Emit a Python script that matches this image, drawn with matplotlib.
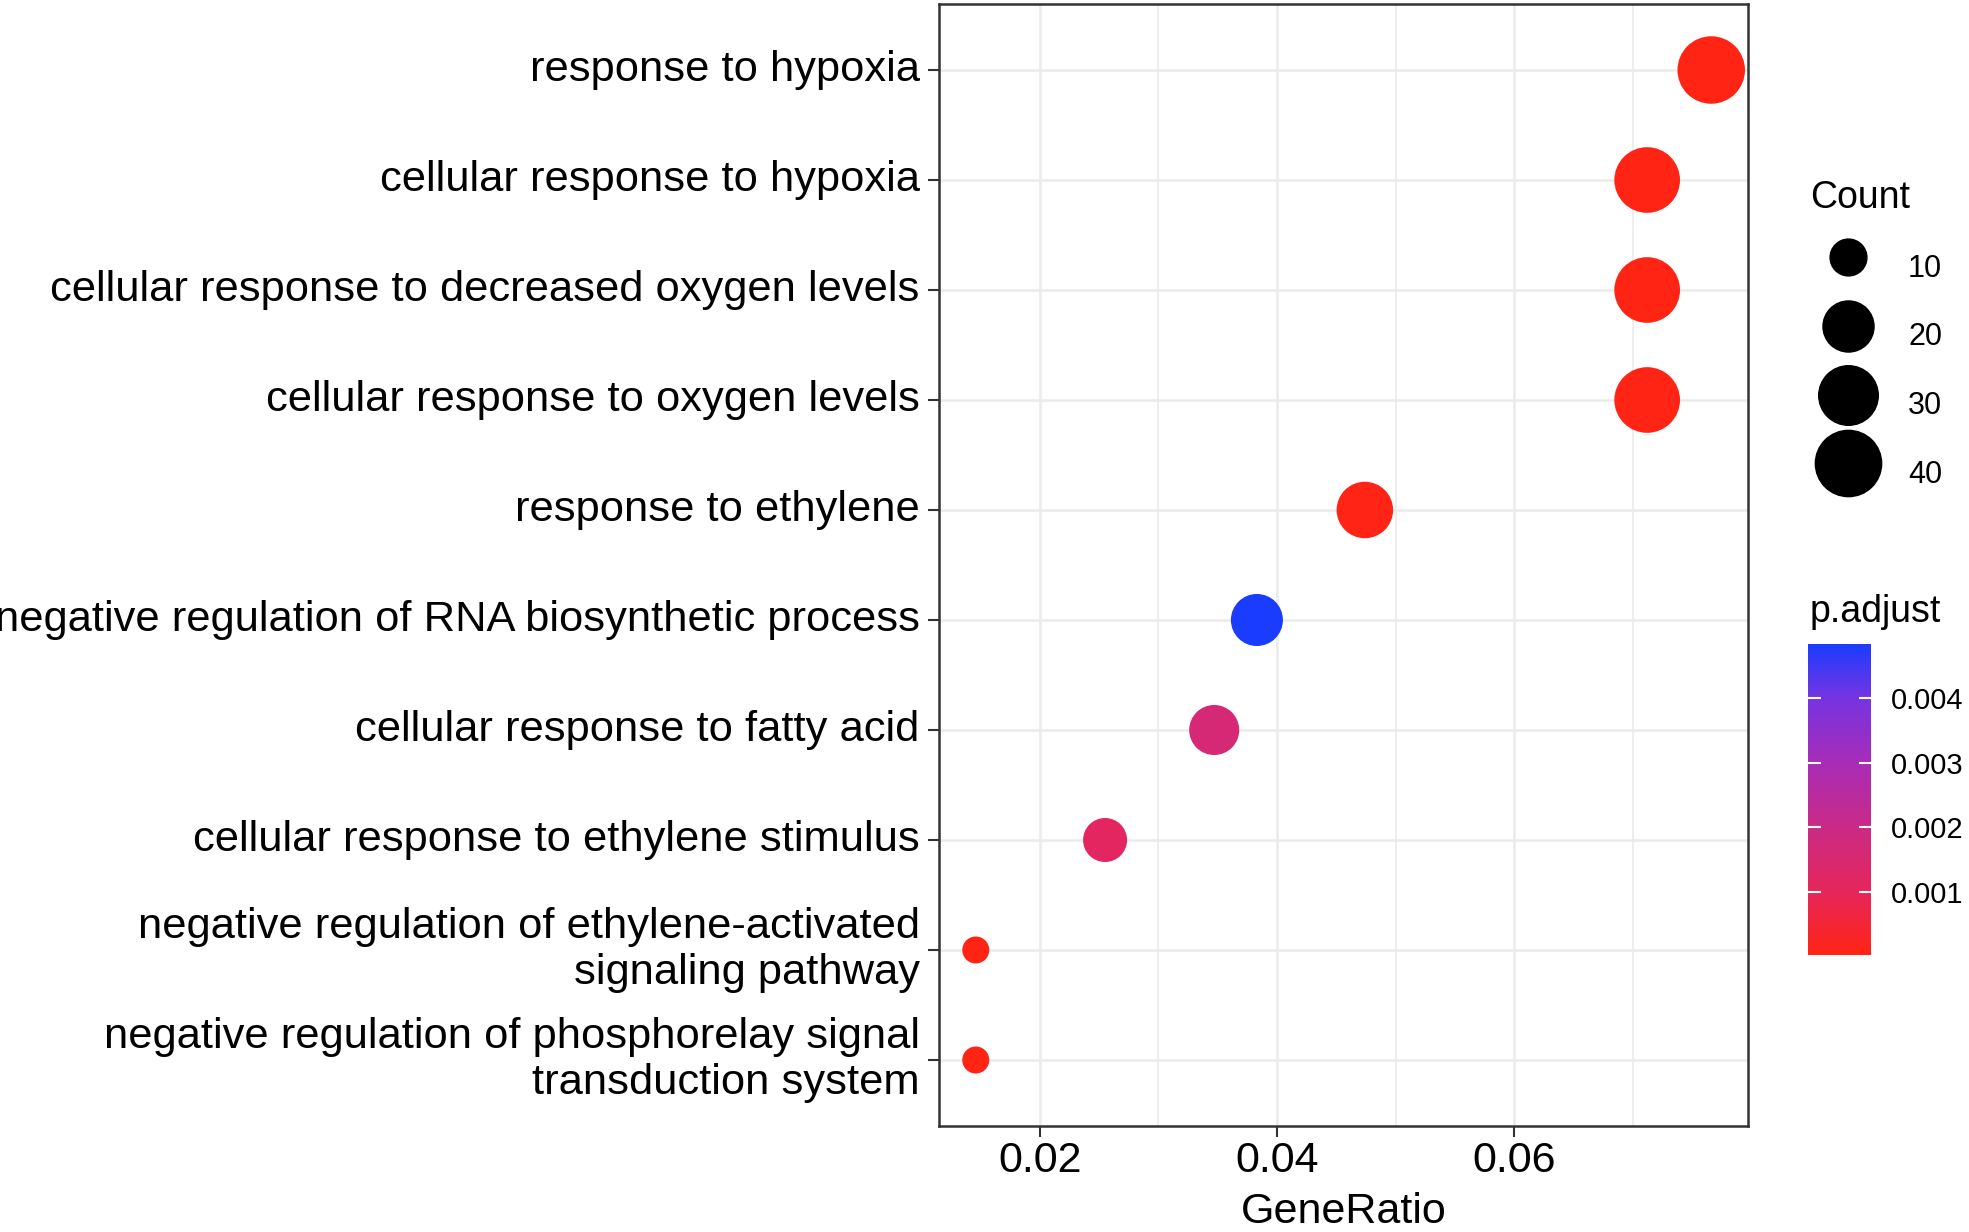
import os

os.environ.setdefault("MPLCONFIGDIR", "/tmp/matplotlib")

import numpy as np
import matplotlib

matplotlib.use("Agg")
import matplotlib.pyplot as plt
from matplotlib.colors import LinearSegmentedColormap
from matplotlib.lines import Line2D

# GO terms, top to bottom
TERMS = [
    "response to hypoxia",
    "cellular response to hypoxia",
    "cellular response to decreased oxygen levels",
    "cellular response to oxygen levels",
    "response to ethylene",
    "negative regulation of RNA biosynthetic process",
    "cellular response to fatty acid",
    "cellular response to ethylene stimulus",
    "negative regulation of ethylene-activated\nsignaling pathway",
    "negative regulation of phosphorelay signal\ntransduction system",
]
GENE_RATIO = [0.0766, 0.0712, 0.0712, 0.0712, 0.0474, 0.0383, 0.0347, 0.0255, 0.0146, 0.0146]
COUNT = [42, 39, 39, 39, 26, 21, 19, 14, 8, 8]
P_ADJUST = [1.6e-05, 2.0e-05, 2.0e-05, 2.0e-05, 4.0e-05, 4.84e-03, 1.6e-03, 1.1e-03, 3.0e-05, 3.0e-05]

COUNT_BREAKS = [10, 20, 30, 40]
P_TICKS = [0.001, 0.002, 0.003, 0.004]
X_TICKS = [0.02, 0.04, 0.06]
X_MINOR = [0.01, 0.03, 0.05, 0.07]

FONT = "Liberation Sans"
DPI = 100
PX2PT = 72.0 / DPI

# size scale like ggplot's area palette: diameter in px over the count limits
SIZE_RANGE_PX = (27.0, 67.5)
CMAP = LinearSegmentedColormap.from_list(
    "p_adjust",
    [
        (0.0, "#FF2414"),
        (0.2, "#E6265A"),
        (0.41, "#CA2A86"),
        (0.62, "#A82CB8"),
        (0.83, "#7434E2"),
        (1.0, "#1A3CFF"),
    ],
)


def diameter_px(counts, lo, hi):
    c = np.asarray(counts, dtype=float)
    frac = np.sqrt(np.clip((c - lo) / (hi - lo), 0, None))
    return SIZE_RANGE_PX[0] + (SIZE_RANGE_PX[1] - SIZE_RANGE_PX[0]) * frac


plt.rcParams["font.family"] = [FONT, "DejaVu Sans"]

W, H = 1969, 1232
fig = plt.figure(figsize=(W / DPI, H / DPI), dpi=DPI)
ax = fig.add_axes([939 / W, 1 - 1126 / H, (1748 - 939) / W, (1126 - 4) / H])

c_lo, c_hi = min(COUNT), max(COUNT)
ypos = np.arange(len(TERMS))
sizes = (diameter_px(COUNT, c_lo, c_hi) * PX2PT) ** 2
sc = ax.scatter(
    GENE_RATIO,
    ypos,
    s=sizes,
    c=P_ADJUST,
    cmap=CMAP,
    vmin=min(P_ADJUST),
    vmax=max(P_ADJUST),
    edgecolors="none",
    zorder=3,
)

ax.set_xticks(X_TICKS)
ax.set_xticklabels([f"{v:.2f}" for v in X_TICKS], fontsize=31)
ax.set_xticks(X_MINOR, minor=True)
ax.set_yticks(ypos)
ax.set_yticklabels(TERMS, fontsize=31.3, linespacing=1.2, va="center")

# ggplot-like expansion (after ticks, so the limits are not widened)
xr = max(GENE_RATIO) - min(GENE_RATIO)
ax.set_xlim(min(GENE_RATIO) - 0.05 * xr, max(GENE_RATIO) + 0.05 * xr)
ax.set_ylim(len(TERMS) - 1 + 0.6, -0.6)

ax.grid(which="major", color="#EBEBEB", linewidth=1.8, zorder=0)
ax.grid(which="minor", axis="x", color="#EBEBEB", linewidth=1.2, zorder=0)
ax.set_axisbelow(True)
ax.tick_params(which="major", length=8, width=1.5, color="#333333", labelcolor="black")
ax.tick_params(axis="x", which="major", pad=3)
ax.tick_params(axis="y", which="major", pad=6)
ax.tick_params(which="minor", length=0)
for sp in ax.spines.values():
    sp.set_color("#333333")
    sp.set_linewidth(1.8)

ax.set_xlabel("GeneRatio", fontsize=31, labelpad=8)

# size legend
fig.text(1810 / W, 1 - 208 / H, "Count", fontsize=27, va="baseline", ha="left")
handles = [
    Line2D([], [], marker="o", linestyle="", color="black",
           markersize=d * PX2PT)
    for d in diameter_px(COUNT_BREAKS, c_lo, c_hi)
]
leg = ax.legend(
    handles,
    [str(b) for b in COUNT_BREAKS],
    loc="upper left",
    bbox_to_anchor=(1810 / W, 1 - 238 / H),
    bbox_transform=fig.transFigure,
    frameon=False,
    fontsize=22,
    handlelength=2.49,
    handleheight=2.59,
    handletextpad=0.72,
    labelspacing=0.32,
    borderpad=0,
    borderaxespad=0,
)

# colour bar
cax = fig.add_axes([1808 / W, 1 - 955 / H, 63 / W, 311 / H])
cbar = fig.colorbar(sc, cax=cax)
cbar.outline.set_visible(False)
cbar.set_ticks(P_TICKS)
cbar.set_ticklabels([f"{v:.3f}" for v in P_TICKS])
cax.tick_params(axis="y", which="major", direction="in", length=9, width=1.5,
                color="white", left=True, right=True, labelleft=False,
                labelright=True, labelsize=21, pad=14)
cax.tick_params(axis="y", which="minor", length=0)
fig.text(1810 / W, 1 - 622 / H, "p.adjust", fontsize=27, va="baseline", ha="left")

fig.savefig("out.png", dpi=DPI)
